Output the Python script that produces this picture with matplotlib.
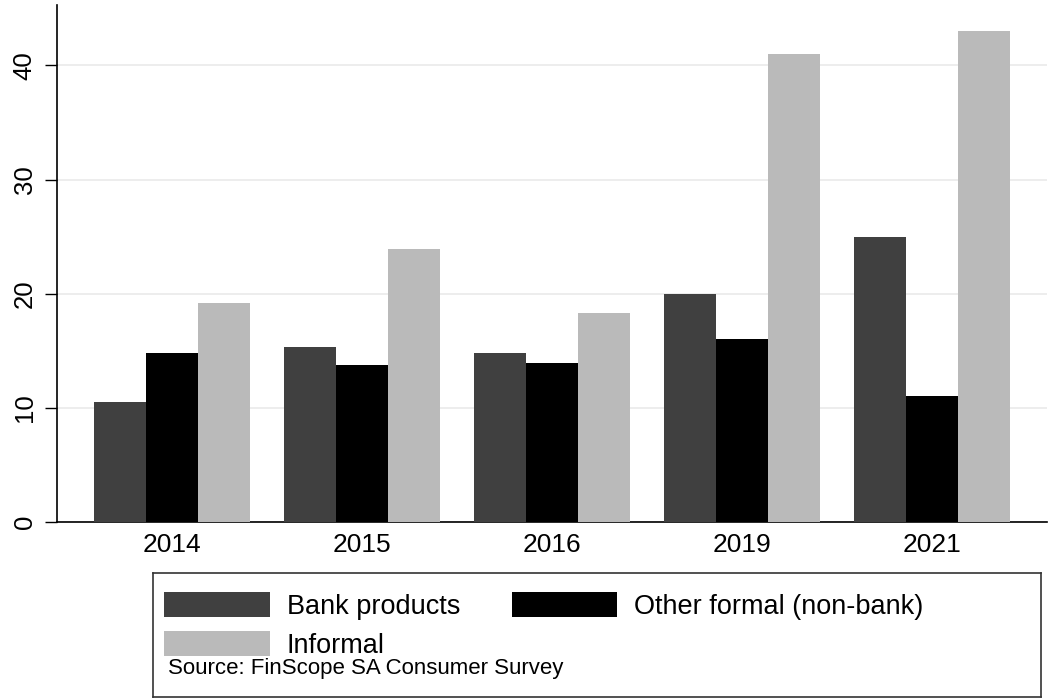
import matplotlib.pyplot as plt
import numpy as np

plt.rcParams['font.family'] = ['Liberation Sans', 'DejaVu Sans']

# data (percent)
years = ['2014', '2015', '2016', '2019', '2021']
bank = [10.5, 15.3, 14.8, 20.0, 25.0]
other_formal = [14.8, 13.8, 13.9, 16.0, 11.0]
informal = [19.2, 23.9, 18.3, 41.0, 43.0]
labels = ['Bank products', 'Other formal (non-bank)', 'Informal']
colors = ['#404040', '#000000', '#bababa']

fig = plt.figure(figsize=(10.49, 6.99), dpi=100)
ax = fig.add_axes([57/1049, 1 - 522/699, (1047 - 57)/1049, (522 - 5)/699])

x = np.arange(len(years))
w = 0.274
bars = []
for i, vals in enumerate([bank, other_formal, informal]):
    b = ax.bar(x + (i - 1)*w, vals, width=w, color=colors[i], label=labels[i], zorder=3)
    bars.append(b)

ax.set_xlim(-0.605, len(years) - 1 + 0.605)
ax.set_ylim(0, 45.3)
ax.set_yticks([0, 10, 20, 30, 40])
ax.set_xticks(x)
ax.set_xticklabels(years)
ax.tick_params(axis='y', labelrotation=90, labelsize=18.5, length=8.5, width=1, pad=6)
ax.tick_params(axis='x', labelsize=19, length=0, pad=8)
for t in ax.get_yticklabels():
    t.set_va('center')
ax.grid(axis='y', color='#eaeaea', linewidth=1.2, zorder=0)
ax.spines['top'].set_visible(False)
ax.spines['right'].set_visible(False)
ax.spines['left'].set_linewidth(1.2)
ax.spines['bottom'].set_linewidth(1.2)

# legend box with source note
lax = fig.add_axes([153/1049, 2/699, (1041 - 153)/1049, (697 - 573)/699])
lax.set_xticks([])
lax.set_yticks([])
for s in lax.spines.values():
    s.set_linewidth(1.2)
    s.set_color('#333333')
h = [bars[0], bars[2], bars[1]]
l = [labels[0], labels[2], labels[1]]
lax.legend(h, l, ncol=2, loc='upper left', bbox_to_anchor=(2/888, 0.925), frameon=False,
           fontsize=19.5, handlelength=3.9, handleheight=1.05, handletextpad=0.62,
           columnspacing=1.9, labelspacing=0.42, borderpad=0.35, borderaxespad=0)
lax.text(15/888, 0.23, 'Source: FinScope SA Consumer Survey', transform=lax.transAxes,
         fontsize=16, va='center', ha='left')

fig.savefig('out.png', dpi=100)
